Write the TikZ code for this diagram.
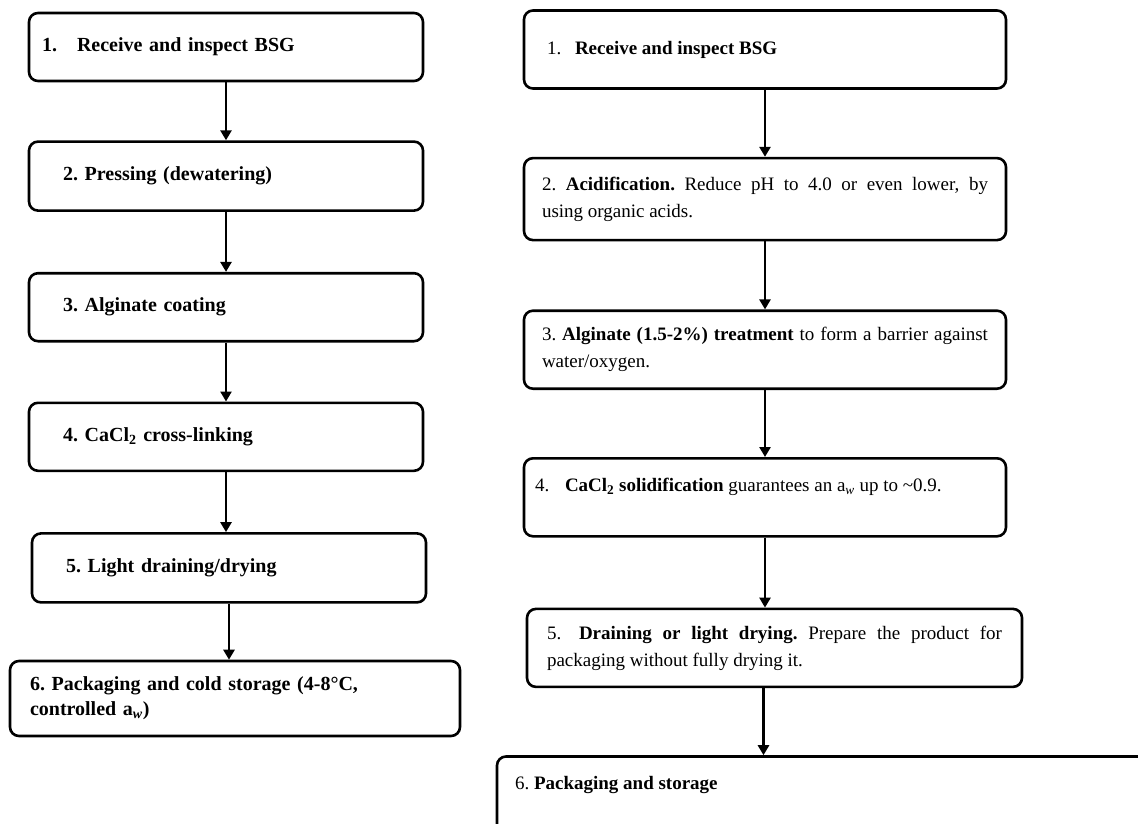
\documentclass[tikz,border=0pt]{standalone}
\usepackage{fontspec}
\setmainfont{Liberation Serif}
\usetikzlibrary{positioning,arrows.meta}
\frenchspacing

\begin{document}
\begin{tikzpicture}[
        x=1pt, y=1pt,
        node distance=60pt,
        stage/.style={rectangle, draw, line width=2.6pt, rounded corners=9pt, inner xsep=0pt, inner ysep=2pt},
        leftstage/.style={stage, minimum width=394pt, minimum height=68pt, text width=326pt, align=left, font=\fontsize{20}{25}\selectfont\bfseries},
        rightstage/.style={stage, minimum width=482pt, minimum height=78pt, text width=446pt, align=justify, font=\fontsize{19}{27}\selectfont},
        arrow/.style={line width=2.6pt, -{Triangle[length=10pt,width=11pt]}}
    ]
        \useasboundingbox (0,0) rectangle (1138,-823);

        % Left column
        \node[leftstage, text width=368pt] (l1) at (226,-47) {\makebox[35pt][l]{1.}Receive and inspect BSG};
        \node[leftstage, minimum height=69pt, below=58pt of l1] (l2) {2. Pressing (dewatering)};
        \node[leftstage, below=60pt of l2] (l3) {3. Alginate coating};
        \node[leftstage, below=59pt of l3] (l4) {4. CaCl\textsubscript{2} cross-linking};
        \node[leftstage, minimum height=69pt, below=60pt of l4, xshift=3pt] (l5) {5. Light draining/drying};
        \node[leftstage, minimum width=450pt, minimum height=75pt, text width=410pt, below=56pt of l5, xshift=6pt] (l6) {6. Packaging and cold storage (4-8°C,\\ controlled a\textsubscript{\textit{w}})};

        % Right column
        \node[rightstage, text width=436pt] (r1) at (765,-49.5) {\makebox[28pt][l]{1.}\textbf{Receive and inspect BSG}};
        \node[rightstage, minimum height=82pt, below=67pt of r1] (r2) {2. \textbf{Acidification.} Reduce pH to 4.0 or even lower, by\linebreak using organic acids.};
        \node[rightstage, below=68pt of r2] (r3) {3. \textbf{Alginate (1.5-2\%) treatment} to form a barrier against\linebreak water/oxygen.};
        \node[rightstage, text width=460pt, text depth=24pt, below=67pt of r3] (r4) {\makebox[30pt][l]{4.}\textbf{CaCl\textsubscript{2} solidification} guarantees an a\textsubscript{\textit{w}} up to \textasciitilde0.9.};
        \node[rightstage, minimum width=495pt, text width=455pt, below=70pt of r4, xshift=9.5pt] (r5) {\hangindent=32pt\hangafter=1\makebox[32pt][l]{5.}\textbf{Draining or light drying.} Prepare the product for\linebreak packaging without fully drying it.};
        \node[rightstage, minimum width=650pt, minimum height=100pt, text width=614pt, text depth=48pt, below=67pt of r5, xshift=47.5pt] (r6) {6. \textbf{Packaging and storage}};

        % Arrows
        \draw[arrow] (l1.south) -- (l1.south |- l2.north);
        \draw[arrow] (l2.south) -- (l2.south |- l3.north);
        \draw[arrow] (l3.south) -- (l3.south |- l4.north);
        \draw[arrow] (l4.south) -- (l4.south |- l5.north);
        \draw[arrow] (l5.south) -- (l5.south |- l6.north);
        \draw[arrow] (r1.south) -- (r1.south |- r2.north);
        \draw[arrow] (r2.south) -- (r2.south |- r3.north);
        \draw[arrow] (r3.south) -- (r3.south |- r4.north);
        \draw[arrow] (r4.south) -- (r4.south |- r5.north);
        \draw[arrow] ([xshift=-11pt]r5.south) -- ([xshift=-11pt]r5.south |- r6.north);
    \end{tikzpicture}
\end{document}
